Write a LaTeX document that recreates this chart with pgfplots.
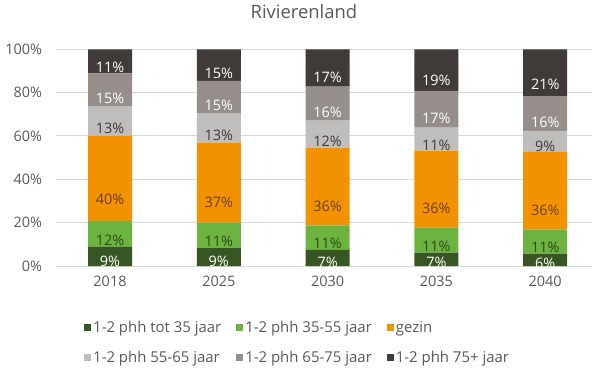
\documentclass[border=0pt]{standalone}
\usepackage{pgfplots}
\pgfplotsset{compat=1.18}
\usepackage{pgfplotstable}
\usepackage{fontspec}
\setmainfont{Open Sans}
\definecolor{cA}{HTML}{375623}
\definecolor{cB}{HTML}{6DB33F}
\definecolor{cC}{HTML}{F39200}
\definecolor{cD}{HTML}{BFBEBD}
\definecolor{cE}{HTML}{958E8A}
\definecolor{cF}{HTML}{403B38}
\definecolor{txt}{HTML}{595959}
\definecolor{grd}{HTML}{D9D9D9}
\definecolor{lblA}{HTML}{2E4A1A}
\definecolor{lblC}{HTML}{6B4000}
\pgfplotstableread{
x a al b bl c cl d dl e el f fl
0 8.8 9 12.0 12 39.2 40 13.5 13 15.4 15 11.1 11
1 8.2 9 11.8 11 36.9 37 13.6 13 14.9 15 14.6 15
2 7.4 7 11.4 11 35.8 36 12.5 12 15.7 16 17.2 17
3 6.2 7 11.5 11 35.5 36 10.6 11 17.0 17 19.2 19
4 5.7 6 11.2 11 35.8 36 9.6 9 16.1 16 21.6 21
}\data
\pgfplotsset{
  seg/.style n args={3}{fill=#1, draw=none,
    point meta=explicit symbolic,
    nodes near coords={\pgfplotspointmeta\%},
    visualization depends on={\thisrow{#3} \as \val},
    every node near coord/.style={text=#2, font=\fontsize{14.5}{16}\selectfont, anchor=center,
      yshift={-0.54175bp*\val}}}
}
\begin{document}
\begin{tikzpicture}
\path[use as bounding box] (0,0) rectangle (592bp,374bp);
\begin{axis}[
  at={(55.6bp,108bp)}, anchor=south west,
  scale only axis, width=536.4bp, height=216.7bp,
  ybar stacked, bar width=44bp,
  xmin=-0.5, xmax=4.43, ymin=0, ymax=100,
  axis line style={draw=none}, major tick length=0pt,
  ymajorgrids, grid style={color=grd, line width=1bp},
  xtick={0,1,2,3,4}, xticklabels={2018,2025,2030,2035,2040},
  ytick={0,20,40,60,80,100},
  yticklabel={\pgfmathprintnumber{\tick}\%},
  /pgf/number format/assume math mode=true,
  tick label style={font=\fontsize{14.5}{17}\selectfont, text=txt},
  yticklabel style={xshift=-10bp},
  xticklabel style={yshift=-7bp},
  title={Rivierenland},
  title style={at={(0.463,1)}, anchor=center, yshift=32bp, font=\fontsize{18.5}{21}\selectfont, text=txt},
  clip=false,
  legend columns=3,
  legend cell align=left,
  legend style={draw=none, fill=none, inner sep=0pt, at={(0.053,-0.245)}, anchor=north west,
    font=\fontsize{15}{17}\selectfont, text=txt, row sep=13bp,
    /tikz/every even column/.append style={column sep=13bp}},
  legend image code/.code={\fill[#1] (0bp,-3.5bp) rectangle (7bp,3.5bp);},
]
\addplot[seg={cA}{white}{a}] table[x=x, y=a, meta=al] {\data};
\addplot[seg={cB}{lblA}{b}] table[x=x, y=b, meta=bl] {\data};
\addplot[seg={cC}{lblC}{c}] table[x=x, y=c, meta=cl] {\data};
\addplot[seg={cD}{cF}{d}] table[x=x, y=d, meta=dl] {\data};
\addplot[seg={cE}{white}{e}] table[x=x, y=e, meta=el] {\data};
\addplot[seg={cF}{white}{f}] table[x=x, y=f, meta=fl] {\data};
\legend{1-2 phh tot 35 jaar, 1-2 phh 35-55 jaar, gezin, 1-2 phh 55-65 jaar, 1-2 phh 65-75 jaar, 1-2 phh 75+ jaar}
\end{axis}
\end{tikzpicture}
\end{document}
